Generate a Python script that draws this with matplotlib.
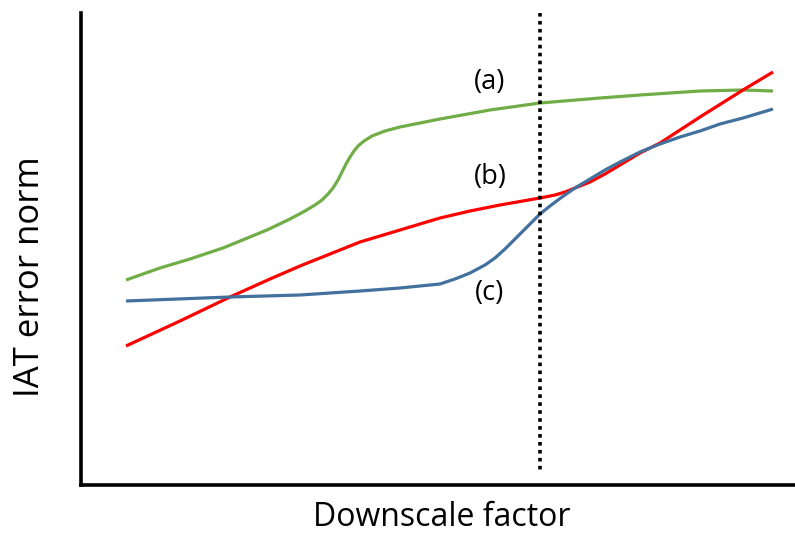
import matplotlib
matplotlib.use("Agg")
import matplotlib.pyplot as plt

# Schematic curves (x: downscale factor, y: error norm, read in picture units; y grows downward)
green_x = [126, 160, 190, 223, 245, 267, 290, 305, 315, 322, 328, 333, 338, 342, 346, 350, 354, 358, 364, 372, 385, 400, 420, 440, 490, 540, 600, 640, 700, 743, 773]
green_y = [280, 268, 259, 248, 239, 230, 219, 211, 205, 200, 194, 188, 180, 172, 164, 157, 151, 146, 141, 136, 131, 127, 123, 119, 110, 103, 98, 95, 91, 90, 91]

red_x = [126, 180, 230, 270, 300, 330, 360, 400, 440, 470, 500, 540, 555, 565, 575, 590, 605, 620, 640, 660, 700, 743, 773]
red_y = [346, 321, 297, 279, 266, 254, 242, 230, 218, 211, 205, 198, 195, 192, 188, 182, 174, 165, 153, 143, 117, 90, 72]

blue_x = [126, 230, 300, 360, 400, 440, 455, 470, 485, 495, 505, 515, 523, 532, 540, 550, 562, 575, 590, 605, 620, 640, 660, 680, 700, 720, 743, 773]
blue_y = [301, 297, 295, 291, 288, 284, 279, 273, 265, 258, 249, 239, 231, 222, 214, 206, 197, 188, 179, 170, 162, 152, 144, 137, 131, 124, 118, 109]

threshold_x = 540
labels = ["(a)", "(b)", "(c)"]
label_x = [490, 490, 490]
label_y = [82, 177, 293]

font = "Open Sans"
fig = plt.figure(figsize=(7.95, 5.34), dpi=100)
ax = fig.add_axes([81 / 795, (534 - 485) / 534, (795 - 81) / 795, (485 - 13) / 534])
ax.set_xlim(81, 795)
ax.set_ylim(485, 13)

kw = dict(lw=2.3, solid_capstyle="butt", solid_joinstyle="round")
ax.plot(green_x, green_y, color="#70AD47", **kw)
ax.plot(red_x, red_y, color="#FF0000", **kw)
ax.plot(blue_x, blue_y, color="#41719C", **kw)
ax.plot([threshold_x, threshold_x], [13, 473], color="black", lw=2.6, linestyle=(0, (1, 1.2)))

for t, x, y in zip(labels, label_x, label_y):
    ax.text(x, y, t, ha="center", va="center", fontsize=19.5, family=font)

for s in ["top", "right"]:
    ax.spines[s].set_visible(False)
for s in ["left", "bottom"]:
    ax.spines[s].set_linewidth(2.6)
    ax.spines[s].set_color("black")
ax.set_xticks([])
ax.set_yticks([])

fig.text(442 / 795, 1 - 518 / 534, "Downscale factor", ha="center", va="center", fontsize=23, family=font)
fig.text(30 / 795, 1 - 277 / 534, "IAT error norm", ha="center", va="center", fontsize=25, family=font, rotation=90)

fig.savefig("out.png", dpi=100)
